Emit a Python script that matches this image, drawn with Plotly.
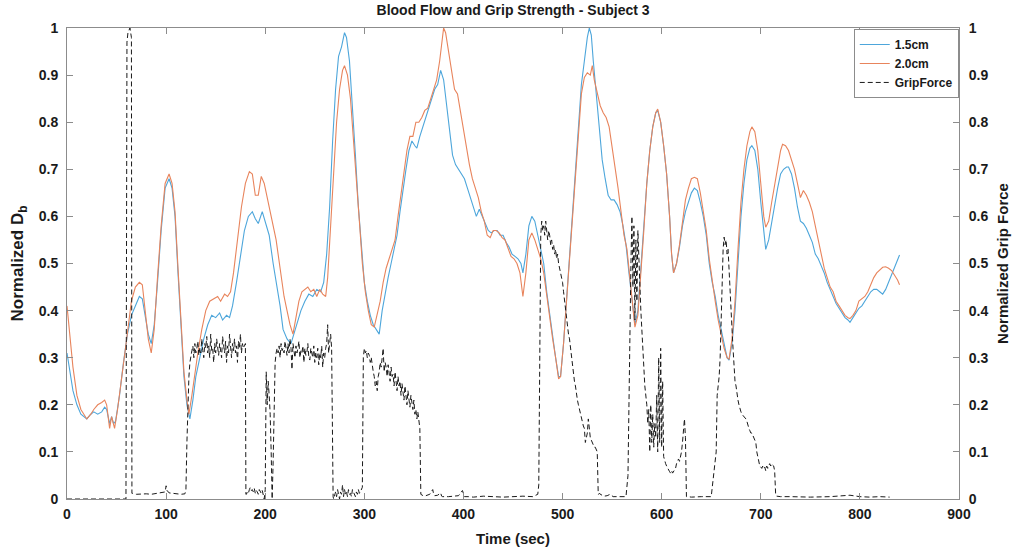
import plotly.graph_objects as go

# ---- Blood flow (normalized D_b), 1.5 cm probe depth ----
t_15 = [0, 3, 6, 10, 14, 20, 24, 27, 31, 35, 38, 40, 43, 45, 47, 49, 53, 57, 61, 65,
        69, 73, 76, 79, 82, 85, 88, 91, 95, 99, 103, 106, 109, 112, 115, 118, 121, 124, 127, 130,
        134, 138, 142, 146, 150, 154, 157, 161, 164, 167, 171, 175, 179, 183, 187, 190, 193, 197, 200, 204,
        208, 212, 215, 218, 222, 226, 229, 232, 236, 240, 244, 248, 252, 256, 259, 262, 265, 268, 271, 274,
        277, 280, 282, 285, 288, 291, 294, 297, 300, 303, 306, 309, 312, 315, 318, 321, 324, 327, 330, 333,
        336, 339, 342, 345, 348, 351, 353, 356, 359, 362, 365, 368, 371, 374, 377, 380, 383, 386, 389, 392,
        395, 398, 401, 404, 407, 410, 413, 416, 419, 422, 425, 428, 431, 434, 437, 440, 443, 446, 449, 452,
        455, 458, 460, 463, 466, 469, 472, 475, 478, 481, 484, 487, 490, 493, 496, 498, 501, 504, 507, 510,
        513, 516, 519, 522, 525, 527, 529, 531, 534, 537, 540, 543, 546, 549, 552, 555, 558, 561, 564, 567,
        570, 573, 576, 579, 582, 585, 588, 591, 594, 596, 599, 602, 605, 608, 610, 612, 615, 618, 621, 624,
        627, 630, 633, 636, 639, 642, 645, 648, 651, 654, 657, 660, 663, 666, 668, 671, 674, 677, 680, 683,
        686, 689, 691, 694, 697, 700, 703, 705, 708, 711, 714, 717, 720, 723, 726, 728, 731, 734, 737, 740,
        743, 746, 749, 752, 755, 758, 761, 764, 767, 770, 773, 776, 779, 782, 785, 788, 790, 793, 796, 799,
        802, 805, 808, 811, 814, 817, 820, 823, 826, 829, 832, 835, 838, 840]
db_15 = [0.31, 0.27, 0.23, 0.20, 0.18, 0.17, 0.18, 0.185, 0.18, 0.185, 0.195, 0.19, 0.16, 0.175, 0.16, 0.165, 0.22, 0.29, 0.35, 0.39,
         0.41, 0.43, 0.425, 0.39, 0.35, 0.33, 0.37, 0.45, 0.57, 0.66, 0.68, 0.66, 0.60, 0.48, 0.36, 0.26, 0.20, 0.17, 0.21, 0.26,
         0.30, 0.34, 0.37, 0.39, 0.385, 0.395, 0.38, 0.39, 0.385, 0.41, 0.46, 0.52, 0.57, 0.60, 0.61, 0.595, 0.585, 0.61, 0.59, 0.56,
         0.50, 0.45, 0.41, 0.36, 0.34, 0.33, 0.35, 0.37, 0.40, 0.42, 0.435, 0.43, 0.445, 0.44, 0.46, 0.52, 0.62, 0.76, 0.87, 0.94,
         0.96, 0.99, 0.98, 0.93, 0.84, 0.73, 0.62, 0.53, 0.46, 0.42, 0.39, 0.37, 0.36, 0.35, 0.40, 0.44, 0.47, 0.50, 0.53, 0.56,
         0.61, 0.66, 0.70, 0.74, 0.76, 0.75, 0.745, 0.77, 0.79, 0.81, 0.83, 0.85, 0.87, 0.88, 0.91, 0.89, 0.84, 0.78, 0.73, 0.71,
         0.70, 0.69, 0.68, 0.66, 0.64, 0.62, 0.60, 0.615, 0.60, 0.585, 0.57, 0.565, 0.57, 0.57, 0.56, 0.56, 0.545, 0.535, 0.52, 0.515,
         0.51, 0.50, 0.48, 0.52, 0.58, 0.60, 0.59, 0.56, 0.53, 0.50, 0.44, 0.39, 0.34, 0.30, 0.26, 0.26, 0.33, 0.42, 0.51, 0.60,
         0.70, 0.80, 0.88, 0.93, 0.98, 1.00, 0.985, 0.93, 0.86, 0.80, 0.72, 0.68, 0.645, 0.635, 0.635, 0.625, 0.61, 0.58, 0.54, 0.48,
         0.42, 0.37, 0.40, 0.48, 0.58, 0.67, 0.74, 0.79, 0.82, 0.825, 0.80, 0.75, 0.69, 0.60, 0.52, 0.48, 0.50, 0.535, 0.58, 0.61,
         0.63, 0.65, 0.66, 0.655, 0.63, 0.60, 0.56, 0.50, 0.46, 0.43, 0.39, 0.36, 0.33, 0.30, 0.295, 0.33, 0.40, 0.50, 0.60, 0.67,
         0.72, 0.745, 0.75, 0.74, 0.70, 0.63, 0.56, 0.53, 0.55, 0.59, 0.62, 0.66, 0.69, 0.70, 0.705, 0.705, 0.69, 0.66, 0.62, 0.59,
         0.585, 0.575, 0.56, 0.545, 0.52, 0.51, 0.495, 0.48, 0.46, 0.445, 0.43, 0.415, 0.405, 0.395, 0.385, 0.38, 0.375, 0.385, 0.395, 0.405,
         0.41, 0.42, 0.43, 0.44, 0.445, 0.445, 0.44, 0.435, 0.445, 0.46, 0.475, 0.49, 0.505, 0.518]

# ---- Blood flow (normalized D_b), 2.0 cm probe depth ----
t_20 = [0, 3, 6, 10, 14, 20, 24, 27, 31, 35, 38, 40, 43, 45, 48, 51, 55, 59, 62, 65,
        69, 73, 76, 79, 82, 85, 88, 91, 95, 99, 103, 106, 109, 112, 115, 118, 121, 123, 126, 129,
        132, 136, 140, 144, 148, 152, 155, 159, 162, 165, 168, 172, 176, 180, 184, 187, 190, 193, 196, 199,
        203, 207, 211, 215, 219, 222, 225, 228, 231, 234, 237, 240, 243, 246, 249, 252, 255, 258, 261, 263,
        266, 269, 272, 275, 278, 280, 283, 286, 289, 292, 295, 298, 301, 304, 307, 310, 313, 316, 319, 322,
        325, 328, 331, 334, 337, 340, 343, 346, 349, 352, 355, 358, 361, 364, 367, 370, 373, 376, 378, 380,
        382, 385, 388, 391, 394, 397, 400, 403, 406, 409, 412, 415, 418, 421, 424, 427, 430, 433, 436, 439,
        442, 445, 448, 451, 454, 457, 460, 463, 466, 469, 472, 475, 478, 481, 484, 487, 490, 493, 496, 498,
        501, 504, 507, 510, 513, 516, 519, 522, 525, 528, 530, 532, 535, 538, 541, 544, 547, 550, 553, 556,
        559, 562, 565, 568, 571, 573, 576, 579, 582, 585, 588, 591, 594, 596, 599, 602, 605, 608, 610, 612,
        615, 618, 621, 624, 627, 630, 633, 636, 639, 642, 645, 648, 651, 654, 657, 660, 663, 666, 668, 671,
        674, 677, 680, 683, 686, 689, 691, 694, 697, 700, 703, 705, 708, 711, 714, 717, 720, 722, 725, 728,
        731, 734, 737, 740, 743, 746, 749, 752, 755, 758, 761, 764, 767, 770, 773, 776, 779, 782, 785, 788,
        790, 793, 796, 799, 802, 805, 808, 811, 814, 817, 820, 823, 826, 829, 832, 835, 838, 840]
db_20 = [0.41, 0.35, 0.28, 0.22, 0.19, 0.17, 0.18, 0.19, 0.20, 0.205, 0.21, 0.20, 0.15, 0.175, 0.15, 0.19, 0.25, 0.32, 0.37, 0.42,
         0.45, 0.46, 0.455, 0.40, 0.34, 0.31, 0.36, 0.46, 0.58, 0.67, 0.69, 0.67, 0.61, 0.49, 0.37, 0.27, 0.21, 0.18, 0.22, 0.27,
         0.31, 0.36, 0.40, 0.42, 0.425, 0.43, 0.42, 0.435, 0.43, 0.44, 0.48, 0.55, 0.62, 0.67, 0.695, 0.69, 0.645, 0.645, 0.685, 0.67,
         0.63, 0.59, 0.55, 0.49, 0.43, 0.40, 0.37, 0.35, 0.39, 0.42, 0.44, 0.445, 0.45, 0.44, 0.445, 0.43, 0.445, 0.435, 0.43, 0.47,
         0.58, 0.70, 0.80, 0.87, 0.91, 0.92, 0.90, 0.85, 0.77, 0.68, 0.59, 0.50, 0.44, 0.40, 0.37, 0.365, 0.39, 0.42, 0.46, 0.49,
         0.51, 0.53, 0.55, 0.60, 0.65, 0.70, 0.74, 0.77, 0.77, 0.80, 0.80, 0.81, 0.825, 0.83, 0.85, 0.87, 0.89, 0.93, 0.97, 1.00,
         0.99, 0.95, 0.91, 0.87, 0.86, 0.82, 0.78, 0.75, 0.71, 0.68, 0.66, 0.64, 0.61, 0.59, 0.56, 0.555, 0.57, 0.57, 0.565, 0.555,
         0.55, 0.53, 0.515, 0.51, 0.50, 0.48, 0.43, 0.48, 0.55, 0.565, 0.55, 0.53, 0.51, 0.48, 0.43, 0.38, 0.34, 0.30, 0.255, 0.26,
         0.33, 0.42, 0.51, 0.60, 0.70, 0.79, 0.86, 0.895, 0.905, 0.90, 0.92, 0.89, 0.86, 0.835, 0.82, 0.81, 0.79, 0.75, 0.71, 0.66,
         0.61, 0.56, 0.53, 0.47, 0.40, 0.365, 0.39, 0.47, 0.57, 0.67, 0.74, 0.79, 0.82, 0.828, 0.80, 0.75, 0.69, 0.60, 0.52, 0.48,
         0.50, 0.54, 0.59, 0.635, 0.66, 0.68, 0.683, 0.68, 0.65, 0.61, 0.57, 0.51, 0.46, 0.42, 0.38, 0.35, 0.32, 0.30, 0.297, 0.34,
         0.42, 0.53, 0.63, 0.70, 0.75, 0.78, 0.79, 0.78, 0.74, 0.67, 0.60, 0.577, 0.59, 0.63, 0.67, 0.71, 0.74, 0.753, 0.75, 0.74,
         0.72, 0.70, 0.67, 0.64, 0.655, 0.645, 0.63, 0.61, 0.58, 0.55, 0.52, 0.49, 0.47, 0.45, 0.44, 0.42, 0.41, 0.40, 0.39, 0.385,
         0.383, 0.39, 0.40, 0.42, 0.425, 0.43, 0.44, 0.455, 0.47, 0.48, 0.487, 0.492, 0.493, 0.49, 0.485, 0.475, 0.465, 0.455]

# ---- Normalized grip force (sampled once per second during holds) ----
t_grip = ([0, 30, 59.5, 60.5, 61.5, 63.5, 65, 65.5, 66, 70, 75, 80, 85, 90, 96, 99, 100, 101, 103, 110, 115, 119, 120]
          + list(range(121, 181)) + [180.5]
          + list(range(181, 269)) + [268.5]
          + list(range(269, 300)) + [299.5]
          + list(range(300, 358)) + [357.5]
          + [358, 362, 366, 369, 370, 371, 374, 377, 378, 379, 385, 390, 395, 399, 400, 401, 405, 410, 420, 430,
             440, 450, 460, 470, 475, 476, 477]
          + list(range(478, 537)) + [537.5]
          + [538, 540, 542, 545, 548, 551, 552, 556, 560, 564]
          + list(range(566, 626)) + [626.5]
          + [630, 640, 650, 655]
          + list(range(656, 716)) + [716]
          + [720, 730, 750, 770, 790, 800, 810, 820, 830, 840])
grip = ([0.0, 0.0, 0.0, 0.97, 0.99, 1.0, 0.98, 0.012, 0.012, 0.010, 0.011, 0.011, 0.010, 0.012, 0.013, 0.015, 0.028, 0.018, 0.013, 0.011, 0.010, 0.011, 0.02]
        # first hold, 121-180 s
        + [0.12, 0.20, 0.26, 0.29, 0.31,
           0.315, 0.325, 0.30, 0.33, 0.31, 0.32, 0.335, 0.305, 0.32, 0.31, 0.34, 0.315, 0.30, 0.33, 0.32, 0.345, 0.31, 0.325,
           0.30, 0.35, 0.315, 0.32, 0.29, 0.33, 0.31, 0.34, 0.32, 0.305, 0.33, 0.315, 0.30, 0.345, 0.32, 0.31, 0.335, 0.29,
           0.325, 0.31, 0.35, 0.32, 0.30, 0.33, 0.315, 0.34, 0.31, 0.325, 0.29, 0.335, 0.32, 0.35, 0.31, 0.33, 0.32, 0.325,
           0.33]
        + [0.01]
        # rest, then second hold 201-268 s
        + [0.01, 0.015, 0.012, 0.02, 0.025, 0.018, 0.02, 0.015, 0.022, 0.012, 0.018, 0.015, 0.01, 0.02, 0.015, 0.012,
           0.018, 0.01, 0.0, 0.02, 0.27, 0.20, 0.25, 0.22, 0.18, 0.10, 0.0, 0.08, 0.20, 0.29, 0.31,
           0.32, 0.31, 0.325, 0.30, 0.33, 0.315, 0.32, 0.31, 0.335, 0.32, 0.305, 0.33, 0.31, 0.34, 0.32, 0.275, 0.33, 0.315,
           0.30, 0.325, 0.31, 0.32, 0.335, 0.30, 0.315, 0.31, 0.325, 0.29, 0.32, 0.305, 0.31, 0.33, 0.30, 0.295, 0.32, 0.31,
           0.30, 0.325, 0.29, 0.31, 0.30, 0.32, 0.285, 0.31, 0.30, 0.325, 0.28, 0.31, 0.30, 0.32, 0.33, 0.37, 0.31, 0.33,
           0.35, 0.32]
        + [0.01]
        + [0.005, 0.0, 0.01, 0.015, 0.005, 0.02, 0.01, 0.0, 0.015, 0.01, 0.03, 0.005, 0.02, 0.01, 0.015, 0.005, 0.02,
           0.01, 0.012, 0.005, 0.02, 0.015, 0.01, 0.005, 0.015, 0.01, 0.02, 0.012, 0.015, 0.02, 0.025]
        + [0.30]
        # third hold, 300-357 s
        + [0.32, 0.32, 0.31, 0.315, 0.30, 0.31, 0.305, 0.29, 0.30, 0.28, 0.27, 0.26, 0.24, 0.25, 0.23, 0.26, 0.27, 0.29,
           0.28, 0.30, 0.32, 0.27, 0.29, 0.28, 0.26, 0.285, 0.27, 0.25, 0.28, 0.26, 0.265, 0.24, 0.27, 0.25, 0.23, 0.26,
           0.24, 0.25, 0.22, 0.245, 0.23, 0.21, 0.24, 0.22, 0.20, 0.23, 0.21, 0.195, 0.22, 0.20, 0.19, 0.21, 0.18, 0.19,
           0.17, 0.185, 0.16, 0.15]
        + [0.01]
        + [0.01, 0.008, 0.007, 0.01, 0.02, 0.01, 0.007, 0.008, 0.013, 0.006, 0.005, 0.005, 0.006, 0.007, 0.018, 0.008,
           0.005, 0.005, 0.004, 0.006, 0.005, 0.004, 0.005, 0.006, 0.005, 0.01, 0.03]
        # fourth hold, 478-536 s
        + [0.30, 0.56, 0.59, 0.57, 0.58, 0.56, 0.59, 0.57, 0.55, 0.57, 0.56, 0.54, 0.55, 0.53, 0.54, 0.52, 0.53, 0.51,
           0.52, 0.50, 0.49, 0.48, 0.47, 0.46, 0.44, 0.42, 0.40, 0.38, 0.37, 0.35, 0.34, 0.32, 0.31, 0.29, 0.27, 0.25,
           0.24, 0.22, 0.21, 0.20, 0.19, 0.18, 0.17, 0.165, 0.155, 0.15, 0.12, 0.13, 0.14, 0.17, 0.14, 0.13, 0.125,
           0.12, 0.115, 0.11, 0.11, 0.105, 0.10]
        + [0.01]
        + [0.012, 0.01, 0.008, 0.006, 0.007, 0.01, 0.005, 0.005, 0.004, 0.004]
        # fifth hold, 566-625 s
        + [0.005, 0.05, 0.25, 0.40, 0.50, 0.60, 0.45, 0.58, 0.38, 0.55, 0.42, 0.57, 0.50, 0.45, 0.40, 0.36, 0.30, 0.28,
           0.24, 0.22, 0.20, 0.16, 0.19, 0.10, 0.20, 0.12, 0.18, 0.11, 0.16, 0.13, 0.22, 0.10, 0.30, 0.12, 0.32, 0.11,
           0.25, 0.09, 0.08, 0.075, 0.07, 0.065, 0.06, 0.058, 0.055, 0.06, 0.055, 0.058, 0.06, 0.065, 0.075, 0.08, 0.085,
           0.08, 0.09, 0.10, 0.12, 0.14, 0.17, 0.13]
        + [0.005]
        + [0.005, 0.004, 0.005, 0.005]
        # sixth hold, 656-715 s
        + [0.10, 0.22, 0.24, 0.26, 0.30, 0.38, 0.46, 0.53, 0.556, 0.54, 0.55, 0.52, 0.53, 0.48, 0.44, 0.40, 0.36, 0.32,
           0.28, 0.25, 0.24, 0.22, 0.21, 0.20, 0.19, 0.185, 0.18, 0.178, 0.175, 0.172, 0.17, 0.165, 0.155, 0.15, 0.145,
           0.14, 0.14, 0.135, 0.13, 0.128, 0.12, 0.10, 0.09, 0.08, 0.07, 0.068, 0.065, 0.07, 0.065, 0.068, 0.06, 0.07,
           0.065, 0.07, 0.075, 0.07, 0.075, 0.072, 0.07, 0.06]
        + [0.01]
        + [0.006, 0.005, 0.005, 0.004, 0.005, 0.008, 0.005, 0.004, 0.005, 0.004])

x_ticks = [0, 100, 200, 300, 400, 500, 600, 700, 800, 900]
y_ticks = [0, 0.1, 0.2, 0.3, 0.4, 0.5, 0.6, 0.7, 0.8, 0.9, 1]
y_tick_text = ["0", "0.1", "0.2", "0.3", "0.4", "0.5", "0.6", "0.7", "0.8", "0.9", "1"]

BLUE = "#4DA6DB"
ORANGE = "#E8845C"
AXIS_GREY = "#8c8c8c"
FONT = "Liberation Sans, Arial, sans-serif"

fig = go.Figure()
fig.add_trace(go.Scatter(x=t_15, y=db_15, name="1.5cm", mode="lines",
                         line=dict(color=BLUE, width=1.1)))
fig.add_trace(go.Scatter(x=t_20, y=db_20, name="2.0cm", mode="lines",
                         line=dict(color=ORANGE, width=1.1)))
fig.add_trace(go.Scatter(x=t_grip, y=grip, name="GripForce", mode="lines", yaxis="y2",
                         line=dict(color="#1a1a1a", width=1, dash="5px,3px")))

axis_common = dict(showgrid=False, zeroline=False, showline=True, linecolor=AXIS_GREY, linewidth=1,
                   ticks="inside", ticklen=6, tickcolor=AXIS_GREY, automargin=False,
                   tickfont=dict(family=FONT, size=14, color="#1a1a1a", weight="bold"))

fig.update_layout(
    width=1018, height=553,
    margin=dict(l=67, r=59, t=28, b=54, autoexpand=False),
    paper_bgcolor="white", plot_bgcolor="white",
    font=dict(family=FONT, color="#1a1a1a"),
    title=dict(text="<b>Blood Flow and Grip Strength - Subject 3</b>", x=0.504, xanchor="center",
               y=0.982, yanchor="middle", font=dict(family=FONT, size=14, color="#1a1a1a")),
    xaxis=dict(range=[0, 900], tickvals=x_ticks, mirror="ticks", ticklabelstandoff=2,
               title=dict(text="<b>Time (sec)</b>", font=dict(family=FONT, size=15), standoff=12),
               **axis_common),
    yaxis=dict(range=[0, 1], tickvals=y_ticks, ticktext=y_tick_text, ticklabelstandoff=5,
               title=dict(text="<b>Normalized D<sub>b</sub></b>", font=dict(family=FONT, size=17), standoff=10),
               **axis_common),
    yaxis2=dict(range=[0, 1], tickvals=y_ticks, ticktext=y_tick_text, overlaying="y", side="right",
                ticklabelstandoff=6,
                title=dict(text="<b>Normalized Grip Force</b>", font=dict(family=FONT, size=15), standoff=10),
                **axis_common),
    legend=dict(x=0.882, y=0.998, xanchor="left", yanchor="top", bgcolor="white",
                bordercolor=AXIS_GREY, borderwidth=1, tracegroupgap=0,
                font=dict(family=FONT, size=12, color="#1a1a1a", weight="bold"),
                itemwidth=30),
    showlegend=True,
)

fig.write_html("out.html")
